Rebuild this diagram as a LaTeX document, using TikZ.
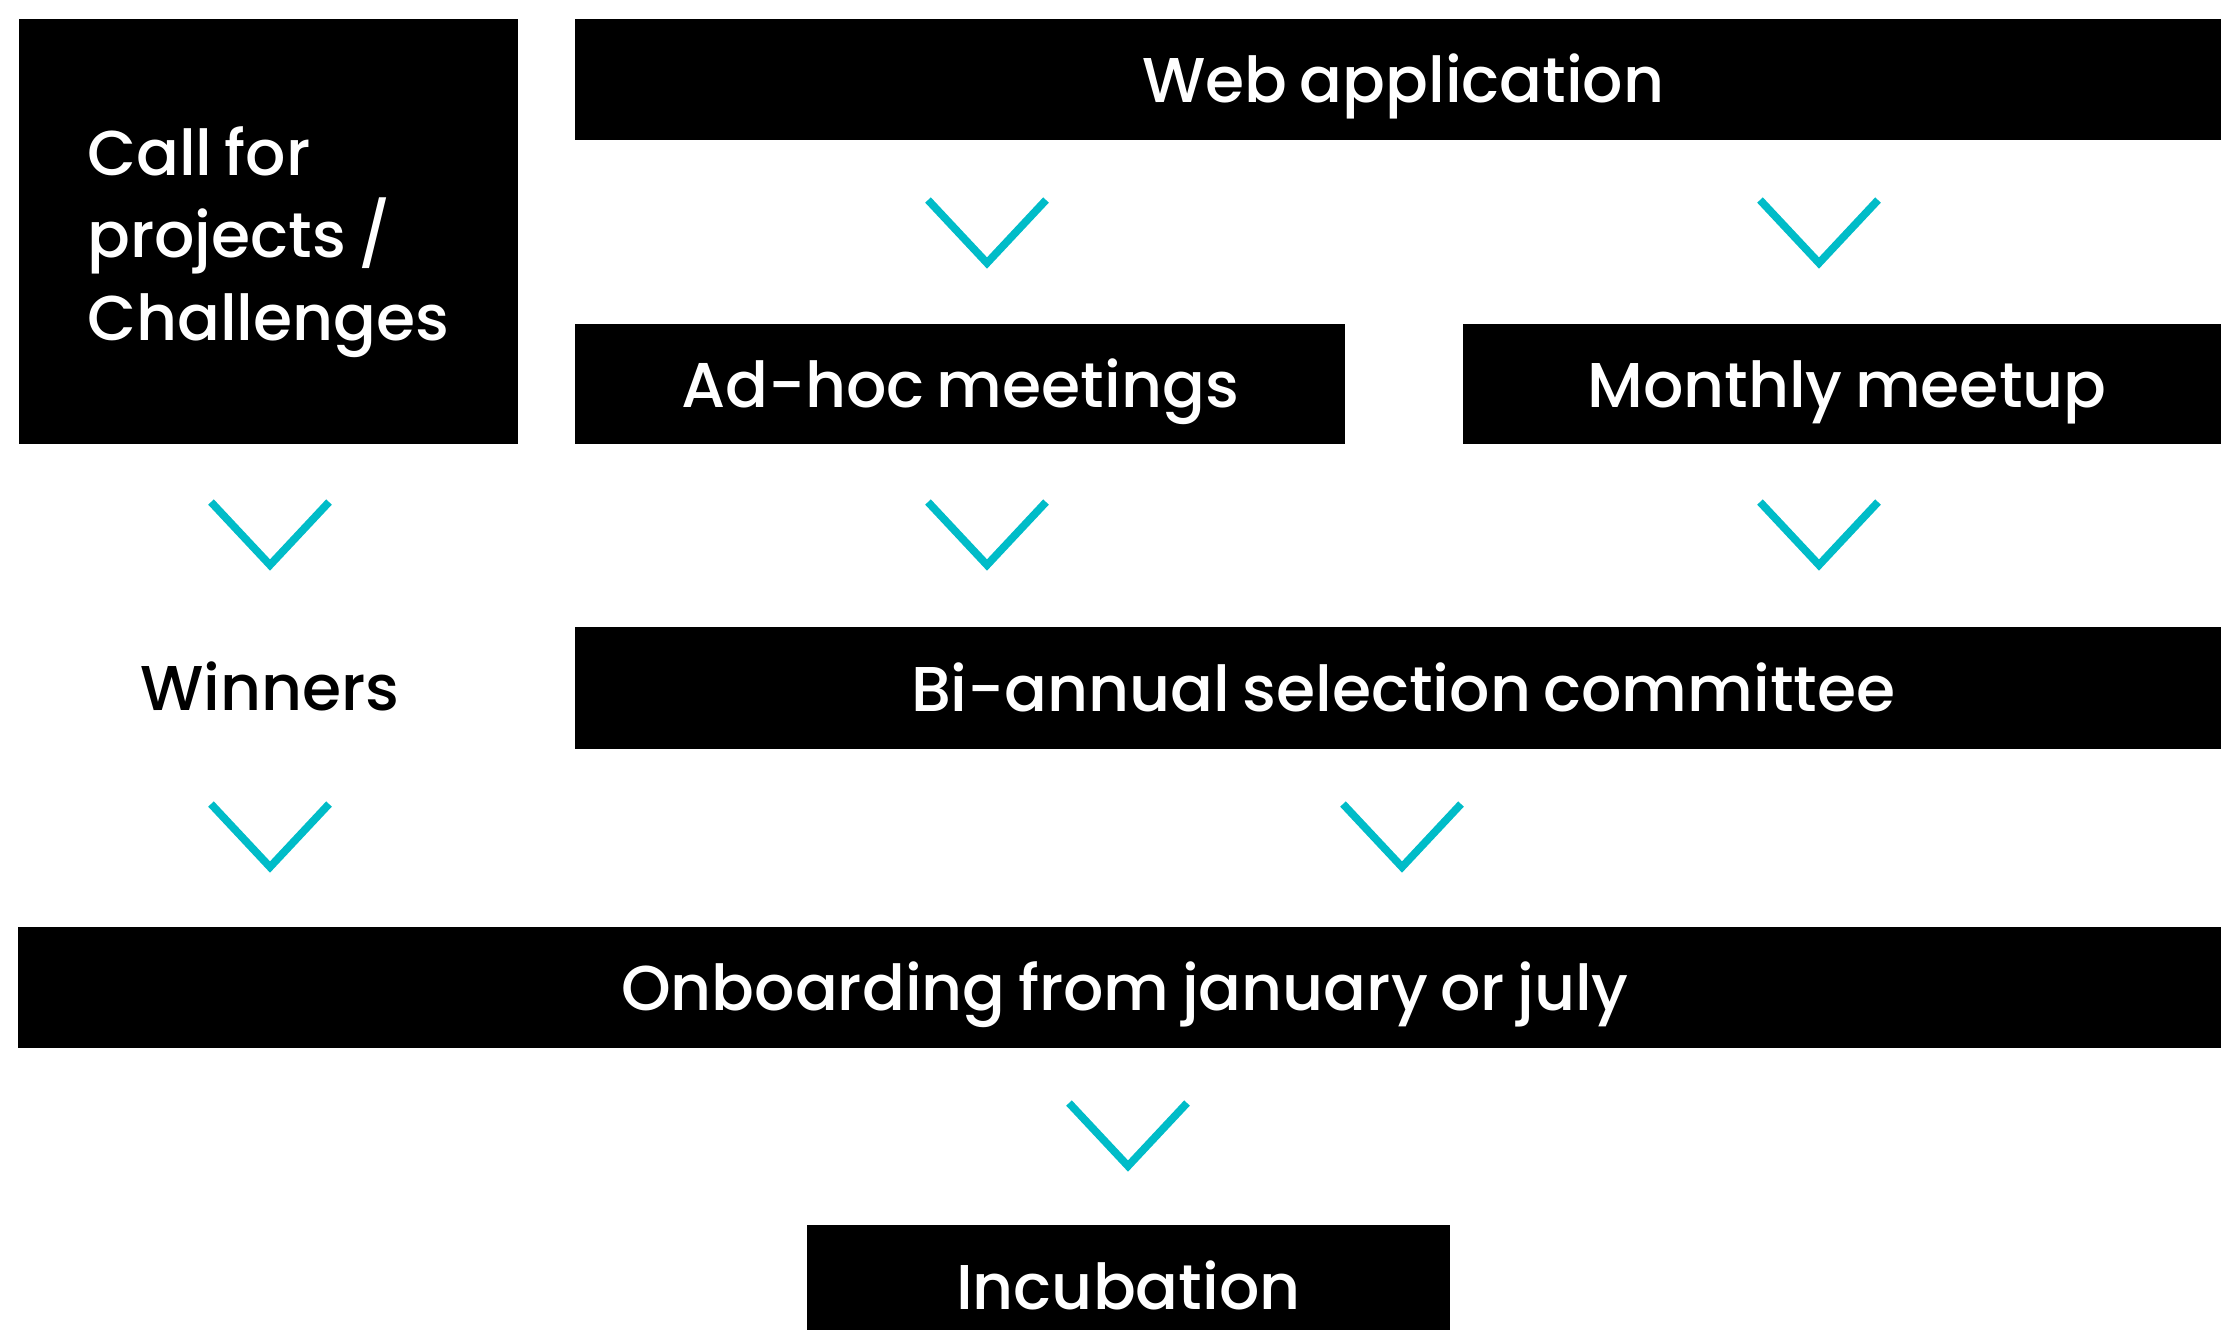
\documentclass[tikz,border=0pt]{standalone}
\usepackage{fontspec}
\setmainfont{Poppins}[UprightFont={* Medium}, WordSpace=0.75]
\usepackage{tikz}
\usetikzlibrary{positioning}

\definecolor{teal}{RGB}{0,188,200}

\tikzset{
  box/.style={fill=black, text=white, anchor=north west, inner sep=0pt,
              font=\fontsize{18}{23.5}\selectfont},
  bar/.style={box, text height=13.4pt, text depth=0pt},
  chev/.style={draw=teal, line width=2.2pt, line cap=butt, line join=miter}
}

\begin{document}
\begin{tikzpicture}[x=0.01cm, y=-0.01cm]

\useasboundingbox (0,0) rectangle (2221,1329);

\node [box, minimum width=4.99cm, minimum height=4.25cm, align=left] (call) at (18,18)
      {\rule{0pt}{20pt}Call for\\ projects /\\ Challenges};
\node [bar, minimum width=16.56cm, minimum height=1.21cm] (web) at (574,18) {Web application};
\node [bar, minimum width=7.70cm, minimum height=1.20cm] (adhoc) at (574,323) {Ad-hoc meetings};
\node [bar, minimum width=7.68cm, minimum height=1.20cm] (monthly) at (1462,323) {Monthly meetup};
\node [font=\fontsize{18}{22}\selectfont, text height=13.4pt, text depth=0pt] (winners) at (270,687) {Winners};
\node [bar, minimum width=16.56cm, minimum height=1.22cm] (select) at (574,626) {Bi-annual selection committee};
\node [bar, minimum width=22.13cm, minimum height=1.21cm] (onboard) at (17,926) {Onboarding from january or july};
\node [bar, minimum width=6.43cm, minimum height=1.22cm] (incub) at (806,1224) {Incubation};

% chevron tips
\coordinate (c1) at (987,263);
\coordinate (c2) at (1819,263);
\coordinate (c3) at (270,565);
\coordinate (c4) at (987,565);
\coordinate (c5) at (1819,565);
\coordinate (c6) at (270,867);
\coordinate (c7) at (1402,867);
\coordinate (c8) at (1128,1166);

\foreach \i in {c1,c2,c3,c4,c5,c6,c7,c8}
    \draw [chev] (\i) ++(-59,-63) -- (\i) -- ++(59,-63);

\end{tikzpicture}
\end{document}
